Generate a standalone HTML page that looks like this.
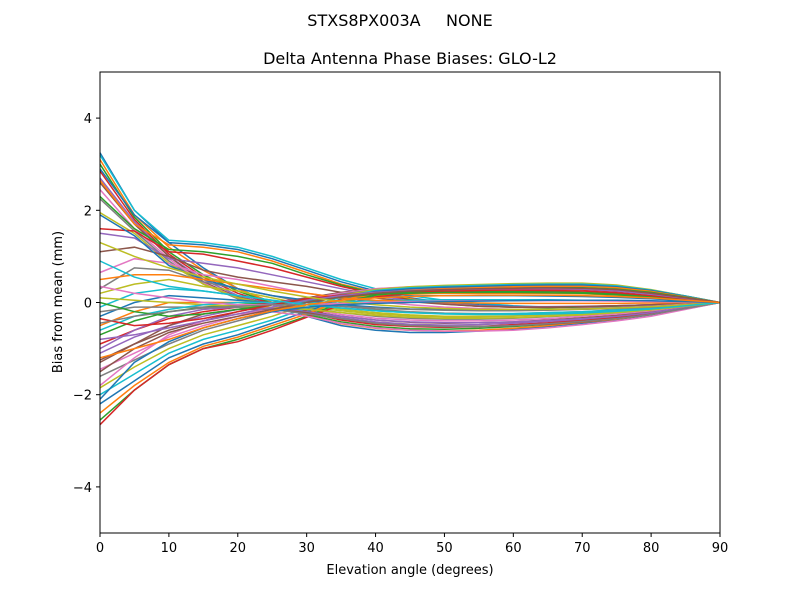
<!DOCTYPE html>
<html><head><meta charset="utf-8"><style>body{margin:0;background:#fff}svg{display:block;font-family:"DejaVu Sans","Liberation Sans",sans-serif}</style></head>
<body>
<svg id="chart" width="800" height="600">
<rect width="800" height="600" fill="#fff"/>
<text x="400" y="26" font-size="16" text-anchor="middle" xml:space="preserve">STXS8PX003A     NONE</text>
<text x="410" y="64" font-size="16" text-anchor="middle">Delta Antenna Phase Biases: GLO-L2</text>
<g id="lines"></g>
<g id="axes"></g>
<text x="410" y="574" font-size="13" text-anchor="middle">Elevation angle (degrees)</text>
<text transform="translate(62,302) rotate(-90)" font-size="13" text-anchor="middle">Bias from mean (mm)</text>
</svg>
<script>
const elevations=[0,5,10,15,20,25,30,35,40,45,50,55,60,65,70,75,80,85,90];
const xTicks=[0,10,20,30,40,50,60,70,80,90];
const yTicks=[-4,-2,0,2,4];
const yTickLabels=["\u22124","\u22122","0","2","4"];
const series=[
[3.25,2.0,1.3,0.75,0.3,0.0,-0.3,-0.5,-0.6,-0.65,-0.65,-0.62,-0.58,-0.52,-0.45,-0.37,-0.27,-0.14,0],
[3.1,1.9,1.2,0.7,0.3,0.0,-0.28,-0.46,-0.56,-0.6,-0.62,-0.6,-0.56,-0.5,-0.43,-0.36,-0.26,-0.13,0],
[3.0,1.85,1.1,0.6,0.25,-0.02,-0.26,-0.42,-0.52,-0.57,-0.58,-0.56,-0.52,-0.47,-0.41,-0.34,-0.25,-0.13,0],
[2.85,1.8,1.05,0.55,0.2,-0.03,-0.22,-0.38,-0.48,-0.52,-0.54,-0.52,-0.48,-0.44,-0.38,-0.32,-0.23,-0.12,0],
[2.7,1.75,1.0,0.5,0.15,-0.05,-0.2,-0.33,-0.42,-0.47,-0.49,-0.48,-0.45,-0.41,-0.36,-0.3,-0.22,-0.11,0],
[2.6,1.7,1.0,0.45,0.12,-0.05,-0.18,-0.3,-0.38,-0.43,-0.45,-0.44,-0.42,-0.38,-0.33,-0.28,-0.2,-0.1,0],
[2.45,1.6,0.95,0.42,0.1,-0.05,-0.15,-0.26,-0.34,-0.38,-0.4,-0.4,-0.38,-0.35,-0.3,-0.25,-0.18,-0.09,0],
[2.25,1.55,0.9,0.4,0.08,-0.05,-0.13,-0.22,-0.3,-0.34,-0.36,-0.36,-0.34,-0.31,-0.27,-0.22,-0.16,-0.08,0],
[1.95,1.5,0.85,0.4,0.1,-0.04,-0.1,-0.18,-0.25,-0.29,-0.31,-0.31,-0.3,-0.27,-0.24,-0.2,-0.14,-0.07,0],
[3.2,2.0,1.35,1.3,1.2,1.0,0.75,0.5,0.3,0.15,0.05,-0.02,-0.07,-0.1,-0.1,-0.09,-0.07,-0.04,0],
[2.9,1.9,1.3,1.25,1.15,0.95,0.7,0.45,0.25,0.1,0.0,-0.05,-0.08,-0.1,-0.1,-0.08,-0.06,-0.03,0],
[2.65,1.7,1.25,1.2,1.1,0.9,0.65,0.4,0.22,0.08,-0.02,-0.07,-0.1,-0.11,-0.1,-0.08,-0.06,-0.03,0],
[2.3,1.6,1.15,1.1,1.0,0.85,0.6,0.38,0.2,0.06,-0.03,-0.08,-0.1,-0.11,-0.1,-0.08,-0.06,-0.03,0],
[1.6,1.55,1.1,1.05,0.9,0.75,0.55,0.35,0.18,0.05,-0.03,-0.08,-0.1,-0.1,-0.09,-0.07,-0.05,-0.02,0],
[1.5,1.4,0.95,0.85,0.75,0.6,0.45,0.3,0.15,0.04,-0.03,-0.07,-0.09,-0.09,-0.08,-0.07,-0.05,-0.02,0],
[1.1,1.2,1.0,0.7,0.55,0.45,0.35,0.22,0.1,0.02,-0.04,-0.08,-0.1,-0.1,-0.09,-0.07,-0.05,-0.02,0],
[0.65,0.95,0.85,0.6,0.5,0.35,0.2,0.1,0.02,-0.05,-0.1,-0.13,-0.15,-0.15,-0.13,-0.11,-0.08,-0.04,0],
[0.3,0.75,0.7,0.45,0.3,0.15,0.0,-0.08,-0.15,-0.2,-0.23,-0.24,-0.24,-0.22,-0.2,-0.16,-0.12,-0.06,0],
[0.2,0.4,0.5,0.35,0.25,0.1,-0.05,-0.15,-0.22,-0.27,-0.3,-0.3,-0.29,-0.27,-0.24,-0.2,-0.14,-0.07,0],
[-0.1,0.2,0.3,0.25,0.15,0.05,-0.05,-0.12,-0.18,-0.22,-0.24,-0.25,-0.24,-0.22,-0.2,-0.16,-0.12,-0.06,0],
[-0.3,0.0,0.15,0.1,0.05,0.0,0.05,0.1,0.12,0.14,0.15,0.15,0.15,0.14,0.13,0.11,0.08,0.04,0],
[-0.5,-0.2,0.0,0.0,0.0,0.0,0.05,0.1,0.15,0.18,0.2,0.2,0.2,0.2,0.19,0.16,0.12,0.06,0],
[-0.7,-0.4,-0.2,-0.1,-0.05,0.0,0.08,0.15,0.2,0.22,0.23,0.24,0.24,0.24,0.22,0.19,0.14,0.07,0],
[-0.9,-0.6,-0.35,-0.2,-0.1,0.0,0.1,0.18,0.24,0.27,0.28,0.29,0.29,0.29,0.28,0.24,0.18,0.09,0],
[-1.1,-0.75,-0.5,-0.3,-0.15,-0.02,0.1,0.2,0.26,0.3,0.32,0.33,0.33,0.33,0.32,0.28,0.2,0.1,0],
[-1.25,-0.9,-0.6,-0.4,-0.2,-0.05,0.1,0.22,0.3,0.33,0.35,0.36,0.36,0.37,0.36,0.32,0.23,0.12,0],
[-1.45,-1.1,-0.75,-0.5,-0.3,-0.1,0.08,0.2,0.3,0.34,0.36,0.37,0.38,0.39,0.38,0.34,0.25,0.13,0],
[-1.6,-1.25,-0.9,-0.6,-0.4,-0.2,0.02,0.18,0.28,0.33,0.36,0.38,0.4,0.41,0.41,0.37,0.27,0.14,0],
[-1.85,-1.4,-1.0,-0.7,-0.5,-0.3,-0.05,0.15,0.28,0.34,0.37,0.39,0.41,0.42,0.42,0.38,0.28,0.14,0],
[-2.0,-1.55,-1.1,-0.8,-0.6,-0.38,-0.12,0.12,0.26,0.32,0.35,0.37,0.39,0.4,0.4,0.36,0.27,0.14,0],
[-2.2,-1.7,-1.2,-0.9,-0.7,-0.45,-0.2,0.08,0.24,0.3,0.33,0.35,0.37,0.38,0.38,0.34,0.26,0.13,0],
[-2.4,-1.8,-1.3,-0.95,-0.75,-0.5,-0.25,0.05,0.2,0.27,0.3,0.32,0.34,0.35,0.35,0.32,0.24,0.12,0],
[-2.55,-1.9,-1.35,-1.0,-0.8,-0.55,-0.3,0.0,0.16,0.23,0.27,0.29,0.31,0.32,0.32,0.29,0.22,0.11,0],
[-2.65,-1.9,-1.35,-1.0,-0.85,-0.6,-0.32,-0.05,0.12,0.2,0.24,0.26,0.28,0.29,0.29,0.27,0.2,0.1,0],
[-1.0,-0.6,-0.3,-0.15,-0.1,-0.12,-0.2,-0.3,-0.38,-0.42,-0.44,-0.44,-0.42,-0.39,-0.35,-0.3,-0.22,-0.11,0],
[-1.3,-0.9,-0.5,-0.25,-0.15,-0.15,-0.22,-0.35,-0.45,-0.5,-0.52,-0.52,-0.5,-0.47,-0.42,-0.35,-0.26,-0.13,0],
[-1.8,-1.2,-0.7,-0.4,-0.25,-0.2,-0.3,-0.45,-0.55,-0.6,-0.62,-0.62,-0.6,-0.55,-0.48,-0.4,-0.3,-0.15,0],
[-0.2,-0.1,-0.1,-0.1,-0.1,-0.15,-0.25,-0.35,-0.45,-0.5,-0.52,-0.52,-0.5,-0.46,-0.41,-0.35,-0.26,-0.13,0],
[0.1,0.05,0.0,-0.05,-0.08,-0.1,-0.15,-0.22,-0.28,-0.32,-0.34,-0.34,-0.33,-0.3,-0.27,-0.22,-0.16,-0.08,0],
[-0.6,-0.3,-0.15,-0.05,0.0,0.0,0.0,0.02,0.04,0.05,0.06,0.06,0.06,0.06,0.05,0.04,0.03,0.02,0],
[1.9,1.45,0.8,0.5,0.3,0.15,0.05,-0.05,-0.1,-0.14,-0.15,-0.16,-0.16,-0.15,-0.14,-0.12,-0.09,-0.05,0],
[0.5,0.6,0.6,0.5,0.4,0.3,0.2,0.1,0.05,0.02,0.0,-0.01,-0.02,-0.02,-0.02,-0.02,-0.01,0,0],
[0.0,-0.2,-0.3,-0.25,-0.15,-0.05,0.05,0.12,0.18,0.2,0.22,0.22,0.22,0.21,0.2,0.17,0.12,0.06,0],
[-0.35,-0.5,-0.45,-0.35,-0.2,-0.05,0.08,0.16,0.22,0.25,0.26,0.27,0.27,0.26,0.25,0.21,0.15,0.08,0],
[-0.8,-0.7,-0.55,-0.4,-0.25,-0.1,0.05,0.15,0.22,0.26,0.28,0.29,0.3,0.3,0.29,0.25,0.18,0.09,0],
[-1.5,-1.0,-0.65,-0.45,-0.3,-0.15,0.0,0.12,0.2,0.25,0.28,0.3,0.31,0.32,0.31,0.28,0.2,0.1,0],
[0.35,0.2,0.1,0.0,-0.05,-0.05,-0.05,-0.02,0.0,0.02,0.03,0.04,0.04,0.04,0.04,0.03,0.02,0.01,0],
[-0.45,-0.3,-0.2,-0.12,-0.08,-0.05,-0.05,-0.08,-0.12,-0.15,-0.17,-0.18,-0.18,-0.17,-0.15,-0.13,-0.1,-0.05,0],
[1.3,1.0,0.75,0.55,0.4,0.25,0.12,0.02,-0.05,-0.1,-0.13,-0.15,-0.15,-0.15,-0.14,-0.12,-0.09,-0.05,0],
[0.9,0.55,0.35,0.25,0.15,0.05,-0.05,-0.12,-0.18,-0.22,-0.25,-0.26,-0.26,-0.25,-0.23,-0.19,-0.14,-0.07,0],
[-2.1,-1.3,-0.85,-0.55,-0.35,-0.2,-0.1,-0.05,-0.02,0.0,0.02,0.03,0.04,0.05,0.05,0.05,0.04,0.02,0],
[-1.2,-1.0,-0.8,-0.55,-0.35,-0.18,-0.05,0.05,0.1,0.13,0.15,0.16,0.16,0.16,0.15,0.13,0.1,0.05,0]
];
const colors=["#1f77b4","#ff7f0e","#2ca02c","#d62728","#9467bd","#8c564b","#e377c2","#7f7f7f","#bcbd22","#17becf"];
const L=100,R=720,T=72,B=533;
const xs=v=>L+(v-0)/90*(R-L);
const ys=v=>T+(5-v)/10*(B-T);
const NS="http://www.w3.org/2000/svg";
const lg=document.getElementById('lines');
series.forEach((s,i)=>{
  const p=document.createElementNS(NS,'polyline');
  p.setAttribute('points',s.map((v,j)=>xs(elevations[j]).toFixed(1)+','+ys(v).toFixed(1)).join(' '));
  p.setAttribute('fill','none');p.setAttribute('stroke',colors[i%10]);p.setAttribute('stroke-width','1.5');
  
  
  lg.appendChild(p);
});
const ax=document.getElementById('axes');
const fr=document.createElementNS(NS,'rect');
fr.setAttribute('x',L);fr.setAttribute('y',T);fr.setAttribute('width',R-L);fr.setAttribute('height',B-T);
fr.setAttribute('fill','none');fr.setAttribute('stroke','#000');fr.setAttribute('stroke-width','1');


ax.appendChild(fr);
xTicks.forEach(t=>{
  const l=document.createElementNS(NS,'line');
  l.setAttribute('x1',xs(t));l.setAttribute('x2',xs(t));l.setAttribute('y1',B);l.setAttribute('y2',B+4);l.setAttribute('stroke','#000');
  
  
  ax.appendChild(l);
  const tx=document.createElementNS(NS,'text');
  tx.setAttribute('x',xs(t));tx.setAttribute('y',B+19);tx.setAttribute('font-size','13');tx.setAttribute('text-anchor','middle');
  tx.textContent=t;
  
  
  ax.appendChild(tx);
});
yTicks.forEach((t,i)=>{
  const l=document.createElementNS(NS,'line');
  l.setAttribute('x1',L-4);l.setAttribute('x2',L);l.setAttribute('y1',ys(t));l.setAttribute('y2',ys(t));l.setAttribute('stroke','#000');
  
  
  ax.appendChild(l);
  const tx=document.createElementNS(NS,'text');
  tx.setAttribute('x',L-8);tx.setAttribute('y',ys(t)+5);tx.setAttribute('font-size','13');tx.setAttribute('text-anchor','end');
  tx.textContent=yTickLabels[i];
  
  
  ax.appendChild(tx);
});
</script>
</body></html>
